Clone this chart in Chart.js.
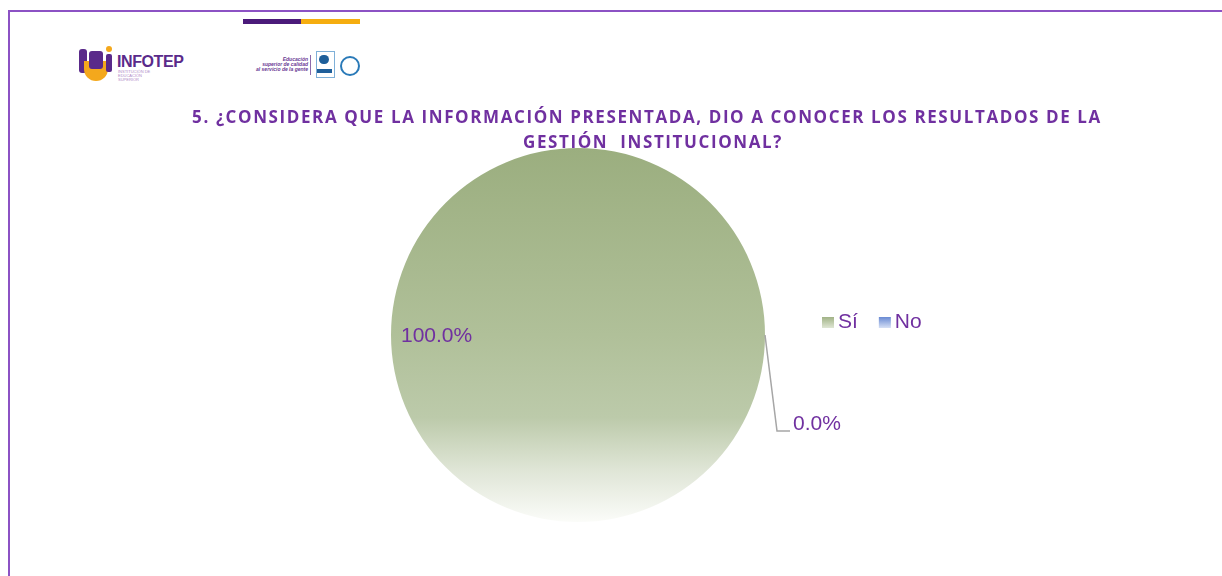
<!DOCTYPE html>
<html>
<head>
<meta charset="utf-8">
<script src="https://cdn.jsdelivr.net/npm/chart.js@4"></script>
<style>
  html, body { margin: 0; padding: 0; background: #fff; }
  #wrap { position: relative; width: 1222px; height: 576px; overflow: hidden; }
  #frame { position: absolute; left: 8px; top: 10px; width: 1300px; height: 700px;
           border-left: 2px solid #8c52c4; border-top: 2px solid #8c52c4; }
  #bars { position: absolute; left: 243px; top: 19px; height: 5px; width: 117px;
          background: linear-gradient(to right, #4b1a7a 0, #4b1a7a 50%, #f5ad10 50%, #f5ad10 100%); }
  .logo { position: absolute; font-family: "Liberation Sans", sans-serif; }
  #chart { position: absolute; left: 0; top: 0; }
</style>
</head>
<body>
<div id="wrap">
  <div id="frame"></div>
  <div id="bars"></div>
  <div class="logo" style="left:79px;top:49px;width:34px;height:32px;">
    <div style="position:absolute;left:0;top:0;width:8px;height:24px;background:#5a2a8a;border-radius:3px;"></div>
    <div style="position:absolute;left:5px;top:12px;width:24px;height:20px;background:#f4a81c;border-radius:0 0 12px 12px;"></div>
    <div style="position:absolute;left:10px;top:2px;width:14px;height:18px;background:#5a2a8a;border-radius:3px;"></div>
    <div style="position:absolute;left:27px;top:5px;width:6px;height:18px;background:#5a2a8a;border-radius:2px;"></div>
    <div style="position:absolute;left:27px;top:-3px;width:6px;height:6px;background:#f4a81c;border-radius:3px;"></div>
  </div>
  <div class="logo" style="left:117px;top:53px;font-weight:900;font-size:16px;color:#5a2a8a;letter-spacing:-0.4px;">INFOTEP</div>
  <div class="logo" style="left:118px;top:70px;font-size:4px;line-height:4px;color:#b08ac8;">INSTITUCIÓN DE<br>EDUCACIÓN<br>SUPERIOR</div>
  <div class="logo" style="left:244px;top:57px;font-size:5px;line-height:5px;color:#6a3a94;font-style:italic;font-weight:bold;text-align:right;width:64px;">Educación<br>superior de calidad<br>al servicio de la gente</div>
  <div style="position:absolute;left:310px;top:55px;width:1px;height:20px;background:#8c6aac;"></div>
  <div style="position:absolute;left:316px;top:51px;width:17px;height:25px;border:1px solid #7fb0d8;background:#fff;"></div>
  <div style="position:absolute;left:319px;top:55px;width:10px;height:9px;background:#1f5f9a;border-radius:5px;"></div>
  <div style="position:absolute;left:317px;top:69px;width:15px;height:4px;background:#1f5f9a;"></div>
  <div style="position:absolute;left:340px;top:56px;width:16px;height:16px;border:2px solid #2a7ab8;border-radius:50%;"></div>
  <canvas id="chart" width="1222" height="576"></canvas>
</div>
<script>
const titleLines = ['5. ¿CONSIDERA QUE LA INFORMACIÓN PRESENTADA, DIO A CONOCER LOS RESULTADOS DE LA', 'GESTIÓN  INSTITUCIONAL?'];
const categories = ['Sí', 'No'];
const values = [100.0, 0.0];
const purple = '#7030a0';

function sliceFill(ctx, i) {
  const chart = ctx.chart;
  const a = chart.chartArea;
  if (!a) return i === 0 ? '#b0c198' : '#7a96d6';
  const g = chart.ctx.createLinearGradient(0, a.top, 0, a.bottom);
  if (i === 0) {
    g.addColorStop(0, '#9bae7f');
    g.addColorStop(0.5, '#b0c099');
    g.addColorStop(0.72, '#bccaaa');
    g.addColorStop(0.86, '#dfe5d6');
    g.addColorStop(1, '#fbfcf9');
  } else {
    g.addColorStop(0, '#6f8fd6');
    g.addColorStop(1, '#f6f8fd');
  }
  return g;
}

const extras = {
  id: 'extras',
  afterDraw(chart) {
    const c = chart.ctx;
    c.save();
    // title
    c.fillStyle = purple;
    c.textAlign = 'center';
    c.textBaseline = 'middle';
    c.font = 'bold 17px "Open Sans", sans-serif';
    if (c.letterSpacing !== undefined) c.letterSpacing = '1.6px';
    c.fillText(titleLines[0], 647, 118);
    c.fillText(titleLines[1], 653, 143);
    if (c.letterSpacing !== undefined) c.letterSpacing = '0px';

    const arc = chart.getDatasetMeta(0).data[0];
    const cx = arc.x, cy = arc.y, r = arc.outerRadius;
    c.font = '21px "Liberation Sans", sans-serif';
    c.textAlign = 'left';
    c.fillText(values[0].toFixed(1) + '%', cx - r + 10, cy + 1);

    // leader line for the empty slice
    c.strokeStyle = '#a6a6a6';
    c.lineWidth = 1.5;
    c.beginPath();
    c.moveTo(cx + r, cy);
    c.lineTo(cx + r + 12, cy + 96);
    c.lineTo(cx + r + 25, cy + 96);
    c.stroke();
    c.fillStyle = purple;
    c.fillText(values[1].toFixed(1) + '%', cx + r + 28, cy + 89);

    // legend
    let x = 822;
    const ly = 322;
    categories.forEach((cat, i) => {
      const g = c.createLinearGradient(0, ly - 6, 0, ly + 6);
      if (i === 0) { g.addColorStop(0, '#9bae7f'); g.addColorStop(1, '#dfe6d4'); }
      else { g.addColorStop(0, '#5f82d0'); g.addColorStop(1, '#d6e0f5'); }
      c.fillStyle = g;
      c.fillRect(x, ly - 5, 12, 11);
      c.fillStyle = purple;
      c.fillText(cat, x + 16, ly);
      x += 16 + c.measureText(cat).width + 21;
    });
    c.restore();
  }
};

new Chart(document.getElementById('chart'), {
  type: 'pie',
  data: {
    labels: categories,
    datasets: [{
      data: values,
      backgroundColor: ctx => sliceFill(ctx, ctx.dataIndex),
      borderWidth: 0
    }]
  },
  options: {
    responsive: false,
    animation: false,
    layout: { padding: { left: 391, right: 457, top: 148, bottom: 54 } },
    plugins: {
      legend: { display: false },
      title: { display: false },
      tooltip: { enabled: false }
    }
  },
  plugins: [extras]
});
</script>
</body>
</html>
